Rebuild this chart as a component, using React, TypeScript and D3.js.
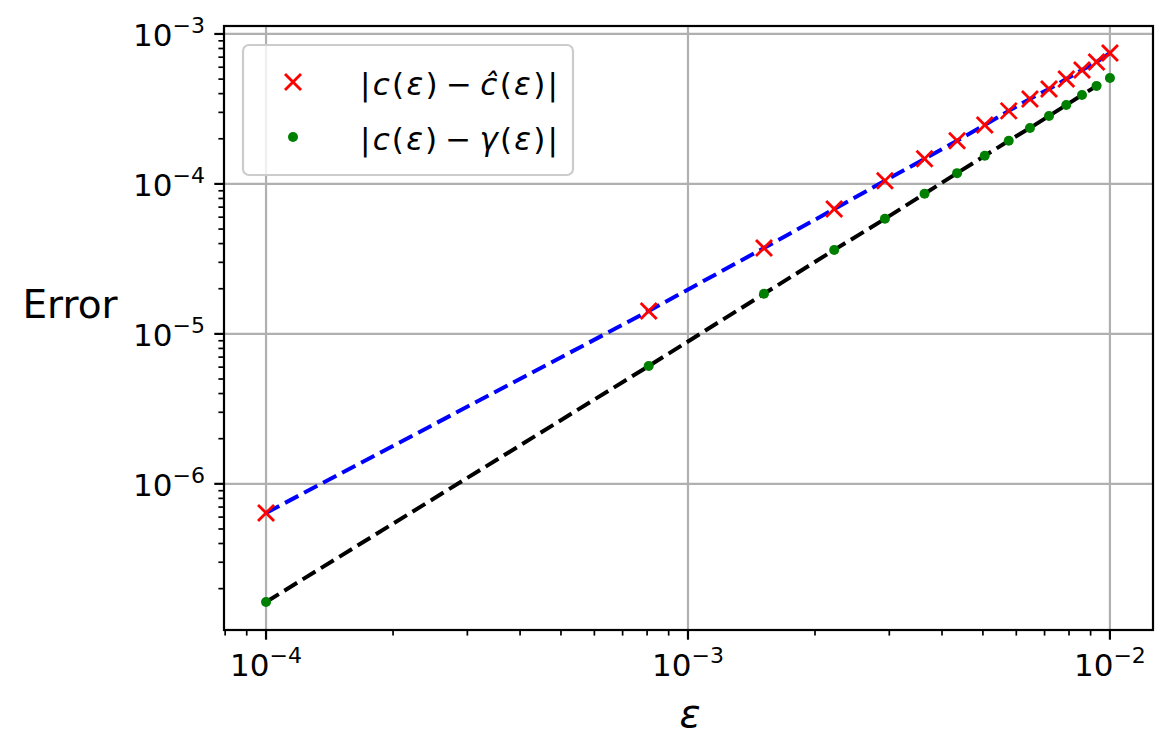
import React from 'react';
import { scaleLog, line } from 'd3';

// epsilon values (15 points from 1e-4 to 1e-2)
const epsValues = [
  1e-4, 8.07e-4, 1.514e-3, 2.221e-3, 2.929e-3, 3.636e-3, 4.343e-3, 5.05e-3,
  5.757e-3, 6.464e-3, 7.171e-3, 7.879e-3, 8.586e-3, 9.293e-3, 1e-2
];
// |c(eps) - c_hat(eps)|
const errHat = [
  6.4e-7, 1.42e-5, 3.74e-5, 6.8e-5, 1.05e-4, 1.47e-4, 1.94e-4, 2.47e-4,
  3.07e-4, 3.69e-4, 4.3e-4, 5.0e-4, 5.75e-4, 6.5e-4, 7.47e-4
];
// |c(eps) - gamma(eps)|
const errGamma = [
  1.63e-7, 6.1e-6, 1.85e-5, 3.63e-5, 5.85e-5, 8.6e-5, 1.18e-4, 1.54e-4,
  1.94e-4, 2.36e-4, 2.84e-4, 3.36e-4, 3.92e-4, 4.5e-4, 5.09e-4
];
const xMajorExps = [-4, -3, -2];
const yMajorExps = [-3, -4, -5, -6];

const W = 1173;
const H = 755;
const left = 224;
const right = 1153;
const top = 26;
const bottom = 630;

const font = 'DejaVu Sans, sans-serif';

function Pow10({ exp, x, y, anchor }: { exp: number; x: number; y: number; anchor: string }) {
  return (
    <text x={x} y={y} textAnchor={anchor} fontFamily={font} fontSize={31} fill="#000">
      10<tspan dy={-13} fontSize={22}>{'\u2212' + Math.abs(exp)}</tspan>
    </text>
  );
}

function MathLabel({ x, y, mid }: { x: number; y: number; mid: string }) {
  return (
    <text x={x} y={y} fontFamily={font} fontSize={31} fontStyle="italic" textLength={198} lengthAdjust="spacing">
      <tspan fontStyle="normal">|</tspan>c<tspan fontStyle="normal">(</tspan>ε<tspan fontStyle="normal">)</tspan>
      <tspan fontStyle="normal" dx={6}>−</tspan>
      <tspan dx={6}>{mid}</tspan><tspan fontStyle="normal">(</tspan>ε<tspan fontStyle="normal">)|</tspan>
    </text>
  );
}

export default function App() {
  const x = scaleLog().domain([7.95e-5, 1.265e-2]).range([left, right]);
  const y = scaleLog().domain([1.06e-7, 1.13e-3]).range([bottom, top]);

  const isMajor = (v: number) => Math.abs(Math.log10(v) - Math.round(Math.log10(v))) < 1e-9;
  const xTicks = x.ticks();
  const yTicks = y.ticks();

  const pts = (vals: number[]) => epsValues.map((e, i) => [x(e), y(vals[i])] as [number, number]);
  const path = line();

  return (
    <svg width={W} height={H} style={{ position: 'absolute', left: 0, top: 0, background: '#fff' }}>
      <defs>
        <clipPath id="plot">
          <rect x={left} y={top} width={right - left} height={bottom - top} />
        </clipPath>
      </defs>
      {/* grid */}
      {xMajorExps.map(e => (
        <line key={'gx' + e} x1={x(10 ** e)} x2={x(10 ** e)} y1={top} y2={bottom} stroke="#b0b0b0" strokeWidth={2.2} />
      ))}
      {yMajorExps.map(e => (
        <line key={'gy' + e} x1={left} x2={right} y1={y(10 ** e)} y2={y(10 ** e)} stroke="#b0b0b0" strokeWidth={2.2} />
      ))}

      {/* dashed lines and markers */}
      <g clipPath="url(#plot)">
        <path d={path(pts(errHat)) || ''} fill="none" stroke="#0000ff" strokeWidth={4} strokeDasharray="15,6.5" />
        <path d={path(pts(errGamma)) || ''} fill="none" stroke="#000" strokeWidth={4} strokeDasharray="15,6.5" />
        {pts(errGamma).map(([px, py], i) => (
          <circle key={'g' + i} cx={px} cy={py} r={5} fill="#008000" />
        ))}
        {pts(errHat).map(([px, py], i) => (
          <g key={'r' + i} stroke="#ff0000" strokeWidth={2.8}>
            <line x1={px - 8} y1={py - 8} x2={px + 8} y2={py + 8} />
            <line x1={px - 8} y1={py + 8} x2={px + 8} y2={py - 8} />
          </g>
        ))}
      </g>

      {/* spines */}
      <rect x={left} y={top} width={right - left} height={bottom - top} fill="none" stroke="#000" strokeWidth={2.2} />

      {/* x ticks */}
      {xTicks.map((t, i) => (
        <line key={'xt' + i} x1={x(t)} x2={x(t)} y1={bottom} y2={bottom + (isMajor(t) ? 9.7 : 5.6)} stroke="#000" strokeWidth={isMajor(t) ? 2.2 : 1.7} />
      ))}
      {xMajorExps.map(e => (
        <Pow10 key={'xl' + e} exp={e} x={x(10 ** e)} y={676} anchor="middle" />
      ))}
      {/* y ticks */}
      {yTicks.map((t, i) => (
        <line key={'yt' + i} x1={left} x2={left - (isMajor(t) ? 9.7 : 5.6)} y1={y(t)} y2={y(t)} stroke="#000" strokeWidth={isMajor(t) ? 2.2 : 1.7} />
      ))}
      {yMajorExps.map(e => (
        <Pow10 key={'yl' + e} exp={e} x={205} y={y(10 ** e) + 12} anchor="end" />
      ))}

      {/* axis labels */}
      <text x={690} y={727} textAnchor="middle" fontFamily={font} fontStyle="italic" fontSize={39}>ε</text>
      <text x={70} y={318} textAnchor="middle" fontFamily={font} fontSize={39}>Error</text>

      {/* legend */}
      <rect x={243} y={45} width={330} height={130} rx={6} fill="#fff" fillOpacity={0.8} stroke="#cccccc" strokeWidth={2.2} />
      <g stroke="#ff0000" strokeWidth={2.8}>
        <line x1={285} y1={74} x2={301} y2={90} />
        <line x1={285} y1={90} x2={301} y2={74} />
      </g>
      <circle cx={293} cy={137} r={5} fill="#008000" />
      <MathLabel x={360} y={95} mid="ĉ" />
      <MathLabel x={360} y={150} mid="γ" />
    </svg>
  );
}
